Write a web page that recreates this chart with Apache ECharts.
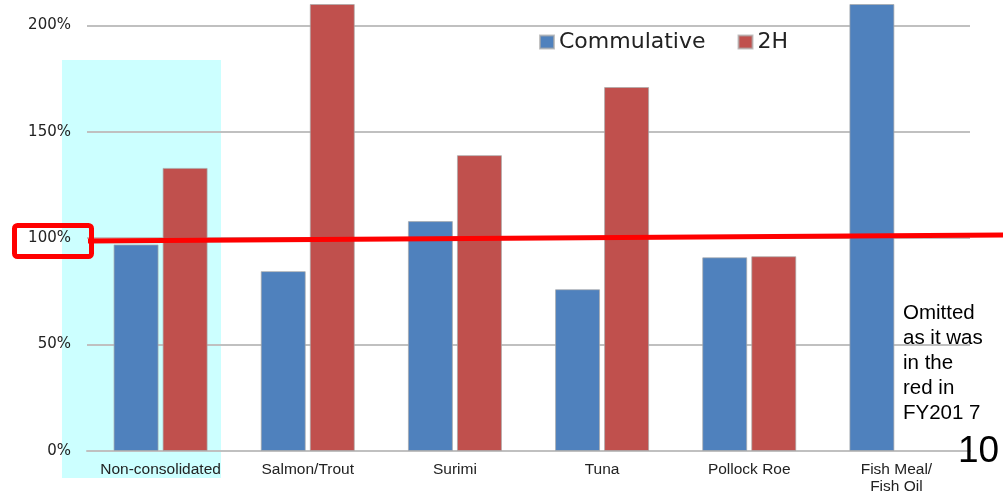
<!DOCTYPE html>
<html>
<head>
<meta charset="utf-8">
<script src="https://cdn.jsdelivr.net/npm/echarts@6/dist/echarts.min.js"></script>
<style>
  html, body { margin: 0; padding: 0; background: #fff; }
  #chart { width: 1003px; height: 495px; }
</style>
</head>
<body>
<div id="chart"></div>
<script>
// Segments and their performance (percent)
const categories = ['Non-consolidated', 'Salmon/Trout', 'Surimi', 'Tuna', 'Pollock Roe', 'Fish Meal/\nFish Oil'];
const cumulative = [97, 84.5, 108, 76, 91, 210];
const secondHalf = [133, 210, 139, 171, 91.5, null];
const yTicks = [0, 50, 100, 150, 200];

const chart = echarts.init(document.getElementById('chart'));

const barBorder = { borderColor: 'rgba(170,170,170,0.7)', borderWidth: 1 };

chart.setOption({
  animation: false,
  grid: { left: 87, right: 33, top: 4, bottom: 44 },
  legend: {
    left: 534, top: 26,
    itemWidth: 14, itemHeight: 13, itemGap: 32,
    icon: 'rect',
    textStyle: { fontFamily: 'DejaVu Sans', fontSize: 22, color: '#222' },
    data: ['Commulative', '2H']
  },
  xAxis: {
    type: 'category',
    data: categories,
    axisTick: { show: false },
    axisLine: { lineStyle: { color: '#c0c0c0', width: 2 } },
    axisLabel: {
      fontFamily: 'Liberation Sans', fontSize: 15.5, color: '#222',
      margin: 10, lineHeight: 17, interval: 0
    }
  },
  yAxis: {
    type: 'value',
    min: 0, max: 210, interval: 50,
    axisLine: { show: false },
    axisTick: { show: false },
    splitLine: { showMaxLine: false, lineStyle: { color: '#c0c0c0', width: 2 } },
    axisLabel: {
      showMaxLabel: false,
      margin: 16,
      fontFamily: 'DejaVu Sans', fontSize: 15, color: '#222',
      formatter: v => (yTicks.indexOf(v) >= 0 ? v + '%' : '')
    }
  },
  series: [
    {
      name: 'Commulative', type: 'bar', data: cumulative,
      barWidth: 45, barGap: '9%',
      itemStyle: Object.assign({ color: '#4f81bd' }, barBorder)
    },
    {
      name: '2H', type: 'bar', data: secondHalf,
      barWidth: 45,
      itemStyle: Object.assign({ color: '#c0504d' }, barBorder)
    }
  ],
  graphic: [
    // highlight panel behind the first segment
    { type: 'rect', z: -10, shape: { x: 62, y: 60, width: 159, height: 418 },
      style: { fill: '#ccffff' } },
    // 100% reference line and box around its label
    { type: 'line', z: 50, shape: { x1: 88, y1: 241, x2: 1003, y2: 235 },
      style: { stroke: '#ff0000', lineWidth: 5 } },
    { type: 'rect', z: 50, shape: { x: 14.5, y: 225.5, width: 77, height: 31, r: 3 },
      style: { fill: 'none', stroke: '#ff0000', lineWidth: 5 } },
    // note for the last segment
    { type: 'text', z: 50, left: 903, top: 301,
      style: { text: 'Omitted\nas it was\nin the\nred in\nFY201 7',
               font: '20.5px "Liberation Sans"', lineHeight: 25, fill: '#000' } },
    // page number
    { type: 'text', z: 50, left: 958, top: 433,
      style: { text: '10', font: '37px "Liberation Sans"', fill: '#000' } }
  ]
});
</script>
</body>
</html>
